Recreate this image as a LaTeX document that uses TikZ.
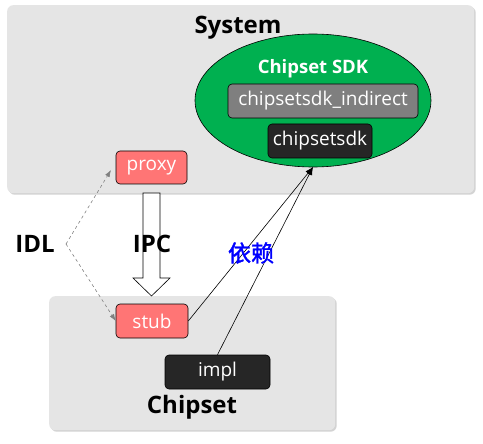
\documentclass[tikz,border=0pt]{standalone}
\usepackage{fontspec}
\setmainfont{Open Sans}
\newfontfamily\cjk[FakeBold=1.5]{Noto Sans CJK SC}
\usetikzlibrary{shadows,arrows.meta,shapes.geometric}
\definecolor{panel}{HTML}{E5E5E5}
\definecolor{sdkgreen}{HTML}{00B050}
\definecolor{midgray}{HTML}{7F7F7F}
\definecolor{darkbox}{HTML}{262626}
\definecolor{pinkbox}{HTML}{FF7575}
\tikzset{
  panelbox/.style={fill=panel, rounded corners=6pt, drop shadow={shadow xshift=1.5pt, shadow yshift=-1.5pt, opacity=0.35}},
  smallbox/.style={draw=black, line width=0.6pt, rounded corners=4pt, text=white, font=\fontsize{19}{21}\selectfont, inner sep=0pt},
  title/.style={font=\bfseries\fontsize{24}{28}\selectfont},
  dep/.style={-{Latex[length=8pt,width=6pt]}, line width=0.6pt},
  idl/.style={gray, dashed, line width=0.6pt, -{Latex[length=7pt,width=5pt]}}
}
\begin{document}
\begin{tikzpicture}[x=1pt,y=-1pt]
\useasboundingbox (0,0) rectangle (483,444);
% panels
\node[panelbox, minimum width=467pt, minimum height=188pt, anchor=north west, inner sep=0pt] (system) at (7,5) {};
\node[panelbox, minimum width=286pt, minimum height=134pt, anchor=north west, inner sep=0pt] (chipset) at (49,296) {};
\node[title] (systemlbl) at (238,28) {System};
\node[title] (chipsetlbl) at (192,407) {Chipset};
% ellipse
\node[ellipse, draw=black, line width=0.6pt, fill=sdkgreen, minimum width=236pt, minimum height=133pt, inner sep=0pt] (sdk) at (313,100.5) {};
\node[text=white, font=\bfseries\fontsize{18.5}{21}\selectfont] (sdklbl) at (313,69) {Chipset SDK};
\node[smallbox, fill=midgray, minimum width=190pt, minimum height=34pt] (indirect) at (323,101) {chipsetsdk\_indirect};
\node[smallbox, fill=darkbox, minimum width=104pt, minimum height=34pt] (csdk) at (320,141) {chipsetsdk};
% proxy / stub / impl
\node[smallbox, fill=pinkbox, minimum width=71pt, minimum height=33pt] (proxy) at (151.5,167.5) {proxy};
\node[smallbox, fill=pinkbox, minimum width=72pt, minimum height=34pt] (stub) at (152,321) {stub};
\node[smallbox, fill=darkbox, minimum width=105pt, minimum height=34pt] (impl) at (217.5,372) {impl};
% IPC arrow
\draw[fill=white, line width=0.6pt] (143,193) -- (143,278) -- (133,278) -- (151.5,296) -- (170,278) -- (160,278) -- (160,193) -- cycle;
\node[title] (ipc) at (152,244) {IPC};
\node[title] (idl) at (35,244) {IDL};
% IDL dashed
\coordinate (idlv) at (66,244);
\coordinate (proxyin) at (111,170);
\draw[idl] (idlv) -- (proxyin);
\draw[idl] (idlv) -- (stub.west);
% dependencies
\coordinate (sdkbot) at (313,167);
\draw[dep] (stub.east) -- (sdkbot);
\draw[dep] (impl.north) -- (sdkbot);
\node[text=blue, font=\cjk\fontsize{23}{26}\selectfont] (yilai) at (251,253) {依赖};
\end{tikzpicture}
\end{document}
